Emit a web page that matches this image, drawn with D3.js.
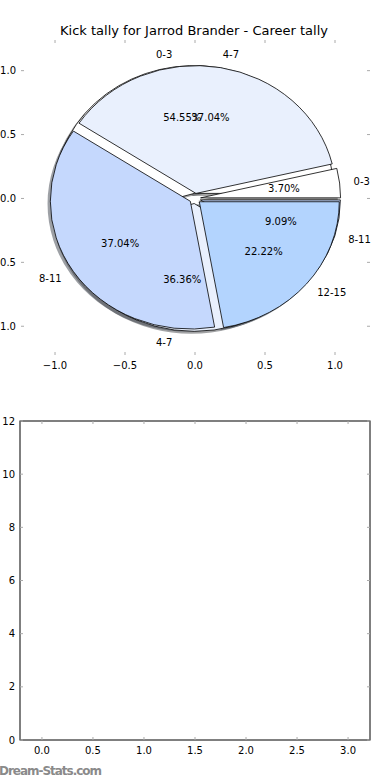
<!DOCTYPE html>
<html>
<head>
<meta charset="utf-8">
<script src="https://cdn.jsdelivr.net/npm/d3@7"></script>
<style>
  body { margin: 0; background: #fff; }
  text { font-family: "DejaVu Sans", sans-serif; }
</style>
</head>
<body>
<svg width="390" height="780"></svg>
<script>
// данные
const careerLabels = ["0-3", "4-7", "8-11", "12-15"];
const careerValues = [1, 10, 10, 6];
const seasonLabels = ["0-3", "4-7", "8-11"];
const seasonValues = [6, 4, 1];
const sliceColors = ["#ffffff", "#e9f0fd", "#c5d8fd", "#b3d4fe"];
const pieTicks = [-1, -0.5, 0, 0.5, 1];
const emptyXTicks = [0, 0.5, 1, 1.5, 2, 2.5, 3];
const emptyYTicks = [0, 2, 4, 6, 8, 10, 12];

const svg = d3.select("svg");
const explode = 0.04;
const fmtTick = d => d3.format(".1f")(d).replace("-", "\u2212");

// верхние оси (круговая диаграмма)
const px = d3.scaleLinear().domain([-1.243, 1.25]).range([21, 370]);
const py = d3.scaleLinear().domain([-1.225, 1.24]).range([355, 40]);
const rx = px(1) - px(0);
const ry = py(0) - py(1);

svg.append("text")
    .attr("x", 194).attr("y", 35)
    .attr("text-anchor", "middle")
    .attr("font-size", 13)
    .text("Kick tally for Jarrod Brander - Career tally");

// делаем секторы в духе matplotlib: угол от 3 часов против часовой
function makeWedges(values, labels) {
    const total = d3.sum(values);
    const pie = d3.pie().sort(null).startAngle(0).endAngle(2 * Math.PI);
    return pie(values).map((d, i) => {
        const mid = (d.startAngle + d.endAngle) / 2;
        return {
            t1: d.startAngle, t2: d.endAngle, mid: mid,
            cx: explode * Math.cos(mid), cy: explode * Math.sin(mid),
            label: labels[i], color: sliceColors[i],
            pct: (100 * d.value / total).toFixed(2) + "%"
        };
    });
}

const season = makeWedges(seasonValues, seasonLabels);
const career = makeWedges(careerValues, careerLabels);

const arc = d3.arc()
    .innerRadius(0)
    .outerRadius(rx)
    .startAngle(w => Math.PI / 2 - w.t2)
    .endAngle(w => Math.PI / 2 - w.t1);

const pieG = svg.append("g");

function wedgeTransform(w, dx, dy) {
    return `translate(${px(w.cx + dx)},${py(w.cy + dy)}) scale(1,${ry / rx})`;
}

// тени под всеми секторами
[season, career].forEach(ws => {
    pieG.selectAll(null).data(ws).enter().append("path")
        .attr("d", arc)
        .attr("transform", w => wedgeTransform(w, -0.02, -0.02))
        .attr("fill", w => {
            const c = d3.rgb(w.color);
            return d3.rgb(c.r * 0.3, c.g * 0.3, c.b * 0.3);
        })
        .attr("fill-opacity", 0.5);
});

[season, career].forEach(ws => {
    pieG.selectAll(null).data(ws).enter().append("path")
        .attr("d", arc)
        .attr("transform", w => wedgeTransform(w, 0, 0))
        .attr("fill", w => w.color)
        .attr("stroke", "#000")
        .attr("stroke-width", 0.8)
        .attr("vector-effect", "non-scaling-stroke")
        .attr("stroke-linejoin", "round");
});

[season, career].forEach(ws => {
    ws.forEach(w => {
        const lx = w.cx + 1.1 * Math.cos(w.mid);
        const ly = w.cy + 1.1 * Math.sin(w.mid);
        svg.append("text")
            .attr("x", px(lx)).attr("y", py(ly))
            .attr("dy", "0.35em")
            .attr("text-anchor", lx > 0 ? "start" : "end")
            .attr("font-size", 10)
            .text(w.label);
        svg.append("text")
            .attr("x", px(w.cx + 0.6 * Math.cos(w.mid)))
            .attr("y", py(w.cy + 0.6 * Math.sin(w.mid)))
            .attr("dy", "0.35em")
            .attr("text-anchor", "middle")
            .attr("font-size", 10)
            .text(w.pct);
    });
});

// засечки и подписи — рамка у верхних осей не рисуется
function drawTicks(xs, ys, xTicks, yTicks, fmtX, fmtY) {
    const g = svg.append("g");
    const [x0, x1] = xs.range();
    const [y0, y1] = ys.range();
    xTicks.forEach(t => {
        g.append("line").attr("x1", xs(t)).attr("x2", xs(t)).attr("y1", y0).attr("y2", y0 - 3)
            .attr("stroke", "#aaa");
        g.append("line").attr("x1", xs(t)).attr("x2", xs(t)).attr("y1", y1).attr("y2", y1 + 3)
            .attr("stroke", "#aaa");
        g.append("text").attr("x", xs(t)).attr("y", y0 + 14)
            .attr("text-anchor", "middle").attr("font-size", 10).text(fmtX(t));
    });
    yTicks.forEach(t => {
        g.append("line").attr("x1", x0).attr("x2", x0 + 3).attr("y1", ys(t)).attr("y2", ys(t))
            .attr("stroke", "#aaa");
        g.append("line").attr("x1", x1).attr("x2", x1 - 3).attr("y1", ys(t)).attr("y2", ys(t))
            .attr("stroke", "#aaa");
        g.append("text").attr("x", x0 - 5).attr("y", ys(t)).attr("dy", "0.35em")
            .attr("text-anchor", "end").attr("font-size", 10).text(fmtY(t));
    });
}

drawTicks(px, py, pieTicks, pieTicks, fmtTick, fmtTick);

// нижние пустые оси
const bx = d3.scaleLinear().domain([-0.215, 3.215]).range([20, 370]);
const by = d3.scaleLinear().domain([0, 12]).range([740, 421]);

svg.append("rect")
    .attr("x", 20).attr("y", 421)
    .attr("width", 350).attr("height", 319)
    .attr("fill", "none").attr("stroke", "#000");

drawTicks(bx, by, emptyXTicks, emptyYTicks, fmtTick, d => d);

svg.append("text")
    .attr("x", -1).attr("y", 775)
    .attr("font-size", 12).attr("font-weight", 600)
    .attr("fill", "#8a8a8a")
    .attr("textLength", 103)
    .text("Dream-Stats.com");
</script>
</body>
</html>
